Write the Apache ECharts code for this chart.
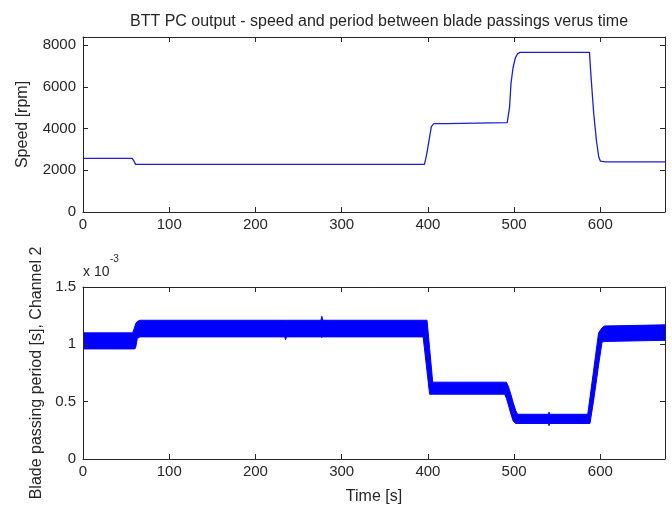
<!DOCTYPE html>
<html>
<head>
<meta charset="utf-8">
<script src="https://cdn.jsdelivr.net/npm/echarts@6/dist/echarts.min.js"></script>
<style>
html,body{margin:0;padding:0;background:#fff;}
#chart{width:672px;height:506px;}
</style>
</head>
<body>
<div id="chart"></div>
<script>
// ---- Data ----
// Top: speed [rpm] vs time [s]
var speedTime  = [0, 57, 59, 61, 396, 398, 400, 402, 404, 407, 420, 421, 492, 494.8, 496.4, 498.7, 501.4, 504.1, 507.2, 587.4, 589.2, 592.3, 595.4, 598.1, 600, 605.8, 675];
var speedValue = [2570, 2570, 2450, 2285, 2285, 2650, 3100, 3600, 4100, 4240, 4240, 4290, 4290, 5060, 6188, 6911, 7393, 7600, 7663, 7663, 6506, 4742, 3455, 2651, 2443, 2410, 2410];

// Bottom: blade passing period band (x 10^-3 s), lower and upper edges of the noisy trace
var periodTime  = [0, 57.5, 60, 61, 63, 66, 234, 235, 236, 276, 277, 278, 394.5, 399, 402, 405.6, 489, 491, 493, 496, 499, 502, 504, 540, 540.5, 541, 585.4, 588, 592, 596, 598, 602, 605, 675];
var periodLower = [0.96, 0.96, 0.96, 0.97, 1.05, 1.065, 1.065, 1.04, 1.065, 1.065, 1.06, 1.065, 1.065, 0.765, 0.565, 0.565, 0.565, 0.53, 0.48, 0.40, 0.33, 0.31, 0.31, 0.31, 0.29, 0.31, 0.31, 0.31, 0.50, 0.71, 0.82, 1.02, 1.025, 1.035];
var periodUpper = [1.10, 1.10, 1.15, 1.18, 1.20, 1.21, 1.21, 1.21, 1.21, 1.21, 1.245, 1.21, 1.21, 1.21, 0.965, 0.67, 0.67, 0.67, 0.64, 0.57, 0.49, 0.42, 0.39, 0.39, 0.41, 0.39, 0.39, 0.536, 0.76, 0.99, 1.10, 1.145, 1.16, 1.17];

// Tick settings
var xTicks = {min: 0, max: 675, interval: 100};
var speedTicks = {min: 0, max: 8400, interval: 2000};
var periodTicks = {min: 0, max: 1.5, interval: 0.5};

// ---- Build series data ----
var speedData = speedTime.map(function (t, i) { return [t, speedValue[i]]; });
var bandData = periodTime.map(function (t, i) { return [t, periodLower[i], periodUpper[i]]; });

var FONT = 'Liberation Sans, Arial, Helvetica, sans-serif';
var AX = '#262626';
var TXT = '#262626';
function plain(v) { return String(v); }

function xAxisDef(gridIndex, pos, showLabel, name) {
  return {
    type: 'value', gridIndex: gridIndex, position: pos,
    min: xTicks.min, max: xTicks.max, interval: xTicks.interval,
    z: 10,
    name: name || '', nameLocation: 'middle', nameGap: 30,
    nameTextStyle: {fontFamily: FONT, fontSize: 16, color: TXT},
    axisLine: {show: true, onZero: false, lineStyle: {color: AX, width: 1}},
    axisTick: {show: true, inside: true, length: 5, lineStyle: {color: AX}},
    axisLabel: {show: showLabel, margin: 5, showMaxLabel: false, formatter: plain, fontFamily: FONT, fontSize: 15, color: TXT},
    splitLine: {show: false}
  };
}
function yAxisDef(gridIndex, pos, ticks, showLabel, name, gap) {
  return {
    type: 'value', gridIndex: gridIndex, position: pos,
    min: ticks.min, max: ticks.max, interval: ticks.interval,
    z: 10,
    name: name || '', nameLocation: 'middle', nameGap: gap || 40, nameRotate: 90,
    nameTextStyle: {fontFamily: FONT, fontSize: 16, color: TXT},
    axisLine: {show: true, onZero: false, lineStyle: {color: AX, width: 1}},
    axisTick: {show: true, inside: true, length: 5, lineStyle: {color: AX}},
    axisLabel: {show: showLabel, margin: 7, formatter: plain, showMaxLabel: Math.abs(ticks.max / ticks.interval - Math.round(ticks.max / ticks.interval)) < 1e-9, fontFamily: FONT, fontSize: 15, color: TXT},
    splitLine: {show: false}
  };
}

// Band drawn as a filled polygon between lower and upper edges, positioned by the axes' scales
function renderBand(params, api) {
  if (params.dataIndex !== 0) return null;
  var n = bandData.length;
  var top = [], bot = [];
  for (var i = 0; i < n; i++) {
    top.push(api.coord([bandData[i][0], bandData[i][2]]));
    bot.push(api.coord([bandData[i][0], bandData[i][1]]));
  }
  var pts = top.concat(bot.reverse());
  var cs = params.coordSys;
  return {
    type: 'polygon',
    shape: {points: pts},
    style: {fill: '#0000ff', stroke: '#0000ff', lineWidth: 1},
    clipPath: {type: 'rect', shape: {x: cs.x, y: cs.y, width: cs.width, height: cs.height}}
  };
}

var chart = echarts.init(document.getElementById('chart'), null, {renderer: 'canvas'});
chart.setOption({
  animation: false,
  backgroundColor: '#ffffff',
  title: {
    text: 'BTT PC output - speed and period between blade passings verus time',
    left: 374, top: 9, textAlign: 'center',
    textStyle: {fontFamily: FONT, fontSize: 16, fontWeight: 'normal', color: TXT}
  },
  grid: [
    {left: 83, top: 37, width: 582, height: 175, containLabel: false},
    {left: 83, top: 287, width: 582, height: 175, containLabel: false}
  ],
  xAxis: [
    xAxisDef(0, 'bottom', true),
    xAxisDef(0, 'top', false),
    xAxisDef(1, 'bottom', true, 'Time [s]'),
    xAxisDef(1, 'top', false)
  ],
  yAxis: [
    yAxisDef(0, 'left', speedTicks, true, 'Speed [rpm]', 52),
    yAxisDef(0, 'right', speedTicks, false),
    yAxisDef(1, 'left', periodTicks, true, 'Blade passing period [s], Channel 2', 37),
    yAxisDef(1, 'right', periodTicks, false)
  ],
  graphic: [
    {type: 'text', left: 83, top: 265, style: {text: 'x 10', fontFamily: FONT, fontSize: 14, fill: TXT}},
    {type: 'text', left: 110, top: 254, style: {text: '-3', fontFamily: FONT, fontSize: 10, fill: TXT}}
  ],
  series: [
    {
      type: 'line', xAxisIndex: 0, yAxisIndex: 0, data: speedData,
      showSymbol: false, symbol: 'none', clip: true,
      lineStyle: {color: '#1f1fc8', width: 1.3}
    },
    {
      type: 'custom', xAxisIndex: 2, yAxisIndex: 2, data: bandData,
      encode: {x: 0, y: [1, 2]},
      renderItem: renderBand
    }
  ]
});
</script>
</body>
</html>
